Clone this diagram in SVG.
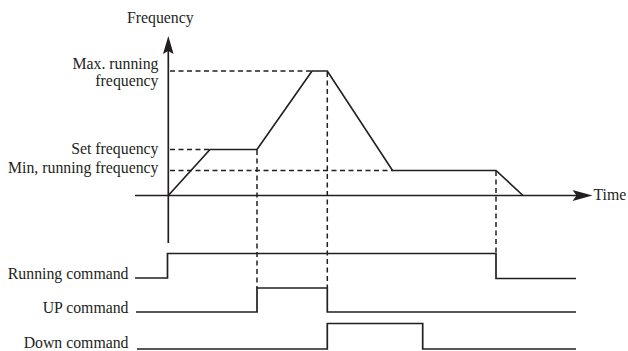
<svg xmlns="http://www.w3.org/2000/svg" width="628" height="351" viewBox="0 0 628 351">
<style>
text{font-family:"Liberation Serif","Times New Roman",Times,serif;font-size:15.8px;fill:#231f20}
.r{text-anchor:end}
.s{fill:none;stroke:#231f20;stroke-width:1.7;stroke-linejoin:miter}
.d{fill:none;stroke:#231f20;stroke-width:1.5;stroke-dasharray:5 3.5}
.ah{fill:#231f20}
</style>
<rect width="628" height="351" fill="#fff"/>
<g id="axes" font-family="Liberation Serif, serif">
<line class="s" x1="168.3" y1="50" x2="168.3" y2="243"/>
<path class="ah" d="M168.3,36 L173.6,54 L168.3,51 L163,54 Z"/>
<line class="s" x1="135" y1="195.5" x2="578" y2="195.5"/>
<path class="ah" d="M592.5,195.5 L572.5,190 L576.5,195.5 L572.5,201 Z"/>
<text x="127" y="22.5">Frequency</text>
<text x="593.5" y="199.5">Time</text>
</g>
<g id="guides">
<polyline class="d" points="170,71 312,71"/>
<polyline class="d" points="170,149.5 210,149.5"/>
<polyline class="d" points="170,170.5 392.5,170.5"/>
<line class="d" x1="257" y1="150" x2="257" y2="288"/>
<line class="d" x1="327.3" y1="72" x2="327.3" y2="288"/>
<line class="d" x1="496" y1="171" x2="496" y2="253"/>
</g>
<g id="frequency-curve">
<polyline class="s" points="168.3,195.5 210,149.5 257,149.5 312,71 327.3,71 392.5,170.5 496,170.5 523,195.5"/>
</g>
<g id="freq-labels" font-family="Liberation Serif, serif">
<text class="r" x="158.5" y="69">Max. running</text>
<text class="r" x="158.5" y="85.5">frequency</text>
<text class="r" x="158.5" y="153.5">Set frequency</text>
<text class="r" x="158.5" y="172.5">Min, running frequency</text>
</g>
<g id="running-command" font-family="Liberation Serif, serif">
<text class="r" x="128.5" y="278.5">Running command</text>
<polyline class="s" points="135,278 167.5,278 167.5,253.5 496,253.5 496,278.5 576,278.5"/>
</g>
<g id="up-command" font-family="Liberation Serif, serif">
<text class="r" x="128.5" y="312.5">UP command</text>
<polyline class="s" points="136,312 257,312 257,288 327.3,288 327.3,312 576,312"/>
</g>
<g id="down-command" font-family="Liberation Serif, serif">
<text class="r" x="128.5" y="348">Down command</text>
<polyline class="s" points="137,349 327.3,349 327.3,323.5 422.7,323.5 422.7,349 576,349"/>
</g>
</svg>
